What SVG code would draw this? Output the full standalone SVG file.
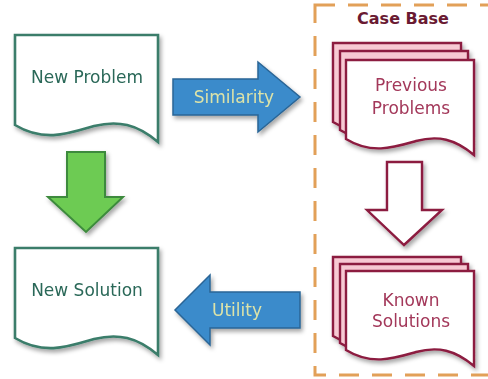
<svg xmlns="http://www.w3.org/2000/svg" xmlns:xlink="http://www.w3.org/1999/xlink" width="488" height="379" viewBox="0 0 488 379">
<style>
  text { font-family: "DejaVu Sans", "Liberation Sans", sans-serif; font-size: 17px; text-anchor: middle; }
  .doc { fill: #ffffff; stroke: #3b7d6b; stroke-width: 2.6; }
  .doctext { fill: #2a6858; }
  .page { stroke: #8c1c40; stroke-width: 2.4; }
  .back { fill: #f7c9d3; }
  .front { fill: #ffffff; }
  .redtext { fill: #a3385a; }
  .blue { fill: #3a8bcb; stroke: #2a6596; stroke-width: 1.5; }
  .bluetext { fill: #dde3a8; }
  .green { fill: #6dcb52; stroke: #3d8a3d; stroke-width: 2; }
  .outline { fill: #ffffff; stroke: #8c1c40; stroke-width: 2.4; }
  .casebox { fill: none; stroke: #e2a058; stroke-width: 3; stroke-dasharray: 20 13; }
  .casetitle { fill: #6a1a32; font-weight: bold; font-size: 16px; }
</style>
<defs>
  <filter id="sh" x="-20%" y="-20%" width="140%" height="150%">
    <feDropShadow dx="2" dy="3" stdDeviation="2" flood-color="#000" flood-opacity="0.35"/>
  </filter>
  <path id="bigdoc" d="M0,0 H143 V107 C122,89 103,85 79,91 C55,98 30,108 0,90 Z"/>
  <path id="page" d="M0,0 H128 V95 C109,79 92,75 70,81 C49,87 26,95 0,79 Z"/>
</defs>

<rect id="case-base" class="casebox" x="315" y="5" width="200" height="370"/>
<text class="casetitle" x="403" y="24">Case Base</text>

<g id="new-problem" filter="url(#sh)">
  <use xlink:href="#bigdoc" class="doc" transform="translate(15,35)"/>
  <text class="doctext" x="87" y="83">New Problem</text>
</g>

<g id="new-solution" filter="url(#sh)">
  <use xlink:href="#bigdoc" class="doc" transform="translate(15,248)"/>
  <text class="doctext" x="87" y="296">New Solution</text>
</g>

<g id="previous-problems" filter="url(#sh)">
  <use xlink:href="#page" class="page back" transform="translate(333,43)"/>
  <use xlink:href="#page" class="page back" transform="translate(340,51)"/>
  <use xlink:href="#page" class="page front" transform="translate(346,60)"/>
  <text class="redtext" x="411" y="91">Previous</text>
  <text class="redtext" x="411" y="114">Problems</text>
</g>

<g id="known-solutions" filter="url(#sh)">
  <use xlink:href="#page" class="page back" transform="translate(333,257)"/>
  <use xlink:href="#page" class="page back" transform="translate(340,264)"/>
  <use xlink:href="#page" class="page front" transform="translate(346,271)"/>
  <text class="redtext" x="411" y="306">Known</text>
  <text class="redtext" x="411" y="327">Solutions</text>
</g>

<g id="connectors" filter="url(#sh)">
  <g id="similarity">
    <polygon class="blue" points="173,79 258,79 258,62 300,97 258,132 258,115 173,115"/>
    <text class="bluetext" x="234" y="103">Similarity</text>
  </g>
  <g id="utility">
    <polygon class="blue" points="300,292 210,292 210,275 175,310 210,345 210,328 300,328"/>
    <text class="bluetext" x="237" y="316">Utility</text>
  </g>
  <polygon id="adapt" class="green" points="67,152 105,152 105,197 123,197 86,232 48,197 67,197"/>
  <polygon id="retrieve" class="outline" points="387,162 422,162 422,210 442,210 404,245 367,210 387,210"/>
</g>
</svg>
